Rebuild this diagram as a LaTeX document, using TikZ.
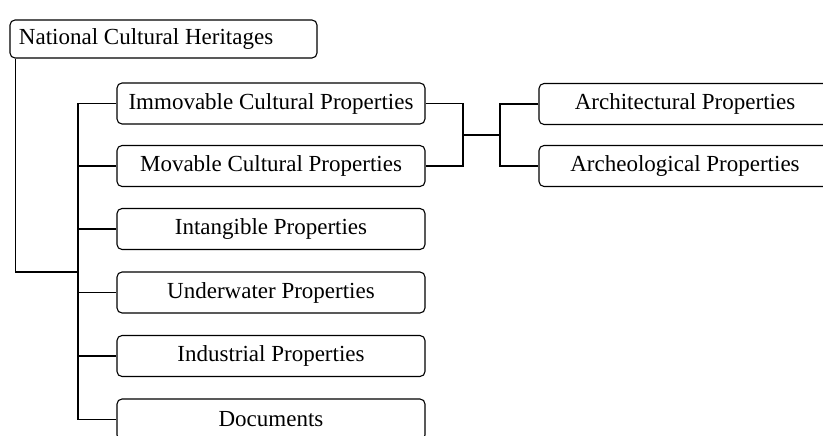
\documentclass[tikz,border=0pt]{standalone}
\usepackage{fontspec}
\setmainfont{Liberation Serif}
\usepackage{tikz}
\usetikzlibrary{positioning}

\begin{document}
\begin{tikzpicture}[
  x=1pt,y=-1pt,
  box/.style={draw,rounded corners=5pt,line width=1.1pt,minimum width=308pt,
              minimum height=41pt,inner sep=0pt,font=\fontsize{23}{28}\selectfont},
  rootbox/.style={box,minimum width=307pt,minimum height=38pt,text width=289pt,
                  align=flush left},
  sidebox/.style={box,minimum width=292pt},
  link/.style={line width=1.1pt}
]
\clip (0,0) rectangle (823,436);
% root
\node[rootbox] (root) at (163.5,39) {National Cultural Heritages};
% first level
\node[box] (immov)  at (271,103.5) {Immovable Cultural Properties};
\node[box] (mov)    at (271,166)   {Movable Cultural Properties};
\node[box] (intang) at (271,229)   {Intangible Properties};
\node[box] (underw) at (271,292.5) {Underwater Properties};
\node[box] (indus)  at (271,356)   {Industrial Properties};
\node[box] (docs)   at (271,419.5) {Documents};
% second level
\node[sidebox] (arch)   at (685,104) {Architectural Properties};
\node[sidebox] (archeo) at (685,166) {Archeological Properties};
% joints
\coordinate (trunk) at (78,103.5);
\coordinate (tj) at (78,272);
\coordinate (mj) at (463,135);
\coordinate (aj) at (500,135);
% connectors
\draw[link] ([xshift=6pt]root.south west) |- (tj);
\draw[link] (immov.west) -- (trunk) |- (docs.west);
\draw[link] (trunk |- mov.west) -- (mov.west);
\draw[link] (trunk |- intang.west) -- (intang.west);
\draw[link] (trunk |- underw.west) -- (underw.west);
\draw[link] (trunk |- indus.west) -- (indus.west);
\draw[link] (immov.east) -| (mj) |- (mov.east);
\draw[link] (mj) -- (aj);
\draw[link] (arch.west) -| (aj) |- (archeo.west);
\end{tikzpicture}
\end{document}
